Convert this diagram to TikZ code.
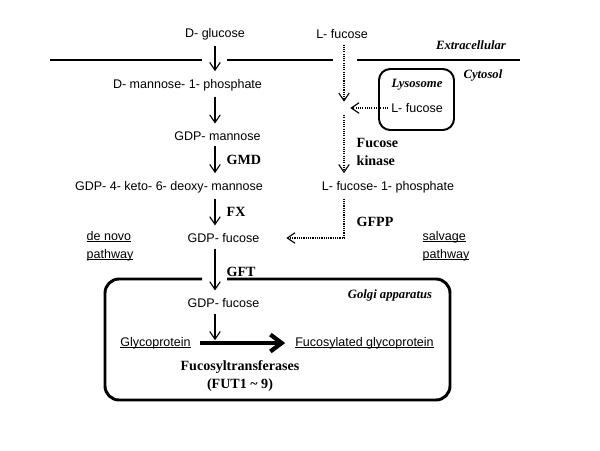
\documentclass[tikz,border=0pt]{standalone}
\usepackage{fontspec}
\setmainfont{Liberation Sans}
\newfontfamily\enzfont{Liberation Serif}
\usetikzlibrary{arrows.meta}
\newcommand\baseul[1]{\setbox0\hbox{#1}\rlap{\rule[-1.1pt]{\wd0}{0.55pt}}\box0}

\begin{document}
\begin{tikzpicture}[x=.025cm, y=-.025cm,
        met/.style={font=\fontsize{8.9}{12.8}\selectfont, inner sep=1pt},
        enz/.style={font=\enzfont\bfseries\fontsize{10}{12.8}\selectfont, align=left, anchor=west, inner sep=1pt},
        comp/.style={font=\enzfont\bfseries\itshape\fontsize{9}{11}\selectfont, inner sep=1pt},
        pathlab/.style={met, align=left, anchor=west},
        conv/.style={-{Straight Barb[length=5.5pt,width=7.5pt]}, line width=.8pt, shorten <=3pt, shorten >=4.5pt},
        salv/.style={conv, dash pattern=on .8pt off .8pt},
        membrane/.style={line width=2.1pt}
    ]
    \useasboundingbox (0,0) rectangle (600,450);

    % membranes
    \draw[membrane] (50,60) -- (202,60) (227,60) -- (333,60) (357,60) -- (520,60);
    \draw[membrane, rounded corners=10pt] (202,279) -| (105,400) -| (450,279) -- (227,279);
    \node[draw, line width=1.4pt, rounded corners=8pt, minimum width=1.875cm, minimum height=1.525cm] (lyso) at (416.5,99.5) {};

    % compartments
    \node[comp] (extra) at (471,45) {Extracellular};
    \node[comp] (cyto) at (483,75) {Cytosol};
    \node[comp] (lysolab) at (417,85) {Lysosome};
    \node[comp] (golgi) at (390,295) {Golgi apparatus};

    % de novo pathway
    \coordinate (axis) at (215,0);
    \node[met] (glc) at (215,34) {D- glucose};
    \node[met] (m1p) at (187.5,85) {D- mannose- 1- phosphate};
    \node[met] (gdpman) at (217.5,136) {GDP- mannose};
    \node[met] (keto) at (169,187) {GDP- 4- keto- 6- deoxy- mannose};
    \node[met] (gdpfuc) at (223.5,238) {GDP- fucose};
    \node[met] (gdpfucg) at (223.5,303) {GDP- fucose};

    \draw[conv] (glc.south -| axis) -- (m1p.north -| axis);
    \draw[conv] (m1p.south -| axis) -- (gdpman.north -| axis);
    \draw[conv] (gdpman.south -| axis) -- (keto.north -| axis);
    \draw[conv] (keto.south -| axis) -- (gdpfuc.north -| axis);
    \draw[conv] (gdpfuc.south -| axis) -- (gdpfucg.north -| axis);

    \node[enz] (gmd) at (225,160) {GMD};
    \node[enz] (fx) at (225,212) {FX};
    \node[enz] (gft) at (225,272) {GFT};

    % salvage pathway
    \node[met] (lfuc) at (342,34) {L- fucose};
    \node[met] (lysfuc) at (417,108) {L- fucose};
    \coordinate (merge) at (344,108);
    \node[met] (lf1p) at (388,187) {L- fucose- 1- phosphate};

    \draw[salv] (lfuc.south -| merge) -- (merge);
    \draw[salv, shorten <=1pt] (lysfuc) -- (merge);
    \draw[salv, shorten <=5pt] (merge) -- (lf1p.north -| merge);
    \draw[salv, shorten >=18pt] (lf1p.south -| merge) |- (gdpfuc.east);

    \node[enz] (fk) at (355,152) {Fucose\\kinase};
    \node[enz] (gfpp) at (355,222) {GFPP};

    \node[pathlab] (denovo) at (85,246) {\baseul{de novo}\\\baseul{pathway}};
    \node[pathlab] (salvage) at (421,246) {\baseul{salvage}\\\baseul{pathway}};

    % golgi
    \node[met] (glyco) at (155.5,343) {\baseul{Glycoprotein}};
    \node[met] (fglyco) at (364.5,343) {\baseul{Fucosylated glycoprotein}};
    \coordinate (fut) at (215,343);
    \draw[line width=3pt, -{Straight Barb[length=8pt,width=12pt]}, shorten <=5.5pt, shorten >=6pt] (glyco) -- (fglyco);
    \draw[conv, shorten >=2pt] (gdpfucg.south -| axis) -- (fut);
    \node[enz, align=center, anchor=center] (futs) at (240,376) {Fucosyltransferases\\(FUT1 \textasciitilde{} 9)};
\end{tikzpicture}
\end{document}
